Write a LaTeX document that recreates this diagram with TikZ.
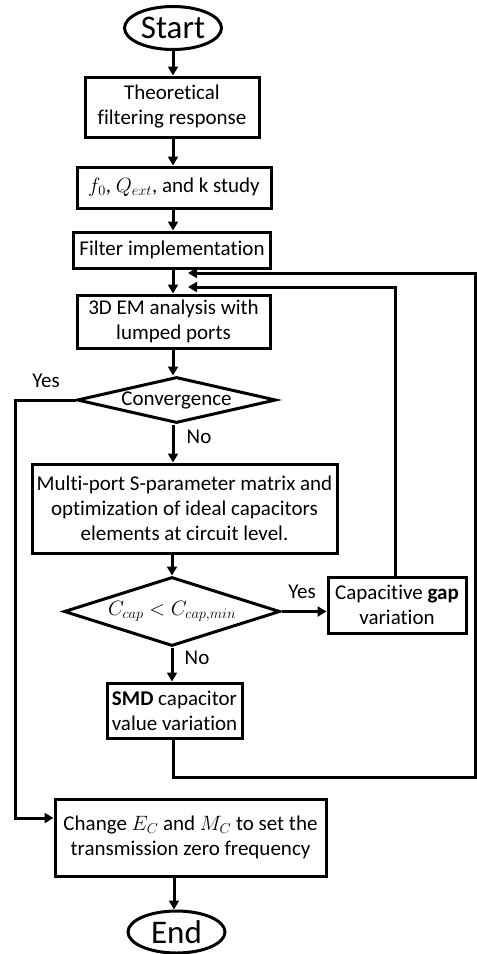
\documentclass[tikz,border=0pt]{standalone}
\usepackage{fontspec}
\setmainfont{Carlito}[RawFeature={-liga}]
\usetikzlibrary{shapes.geometric,arrows.meta}
\begin{document}
\begin{tikzpicture}[x=1pt,y=-1pt,
  every node/.style={font=\fontsize{21}{25}\selectfont},
  box/.style={draw,line width=3pt,rectangle,inner sep=0pt,align=center},
  term/.style={draw,line width=3pt,ellipse,inner sep=0pt,font=\fontsize{33}{36}\selectfont},
  dec/.style={draw,line width=3pt,diamond,inner sep=0pt},
  lbl/.style={inner sep=0pt},
  arr/.style={line width=3pt,-{Triangle[length=9pt,width=10pt]}},
  ln/.style={line width=3pt}]
\useasboundingbox (0,0) rectangle (477,954);
\node[term,minimum width=97pt,minimum height=43pt] (start) at (173,28) {Start};
\node[box,minimum width=174pt,minimum height=60pt] (theo) at (172,107) {Theoretical\\filtering response};
\node[box,minimum width=194pt,minimum height=41pt] (fq) at (174,187.5) {$f_0$, $Q_{ext}$, and k study};
\node[box,minimum width=197pt,minimum height=36pt] (filt) at (172,250) {Filter implementation};
\node[box,minimum width=193pt,minimum height=53pt] (em) at (173.5,321.5) {3D EM analysis with\\lumped ports};
\node[dec,minimum width=199pt,minimum height=46pt,shape aspect=4.3] (conv) at (176.5,400) {Convergence};
\node[box,minimum width=305pt,minimum height=89pt] (multi) at (184.5,508.5) {Multi-port S-parameter matrix and\\optimization of ideal capacitors\\elements at circuit level.};
\node[dec,minimum width=216pt,minimum height=69pt,shape aspect=3.13] (ccap) at (172,611.5) {$C_{cap} < C_{cap,min}$};
\node[box,minimum width=138pt,minimum height=56pt] (gap) at (397,605) {Capacitive \textbf{gap}\\variation};
\node[box,minimum width=135pt,minimum height=55pt] (smd) at (174.5,710.5) {\textbf{SMD} capacitor\\value variation};
\node[box,minimum width=271pt,minimum height=77pt] (change) at (190.5,837.5) {Change $E_C$ and $M_C$ to set the\\transmission zero frequency};
\node[term,minimum width=97pt,minimum height=42pt] (end) at (176.5,932) {End};
\node[lbl] (yes1) at (46,381) {Yes};
\node[lbl] (no1) at (199,437) {No};
\node[lbl] (yes2) at (302,592) {Yes};
\node[lbl] (no2) at (197,658) {No};
\coordinate (tipA) at (188,273);
\coordinate (tipB) at (188,287);
\coordinate (rx) at (475,777);
\coordinate (lx) at (15,818);
\draw[arr] (start.south -| 173,0) -- (theo.north -| 173,0);
\draw[arr] (theo.south -| 173,0) -- (fq.north -| 173,0);
\draw[arr] (fq.south -| 173,0) -- (filt.north -| 173,0);
\draw[arr] (filt.south -| 173,0) -- (em.north -| 173,0);
\draw[arr] (em.south -| 173,0) -- (conv.north -| 173,0);
\draw[arr] (conv.south -| 173,0) -- (multi.north -| 173,0);
\draw[arr] (multi.south -| 172,0) -- (ccap.north);
\draw[arr] (ccap.south) -- (smd.north -| ccap.south);
\draw[arr] (ccap.east) -- (ccap.east -| gap.west);
\draw[arr] ([xshift=-2pt]gap.north) |- (tipB);
\draw[arr] (smd.south -| 173,0) |- (rx) |- (tipA);
\draw[arr] (conv.west) -| (lx) -- (lx -| change.west);
\draw[arr] (change.south -| 174,0) -- (end.north -| 174,0);
\end{tikzpicture}
\end{document}
